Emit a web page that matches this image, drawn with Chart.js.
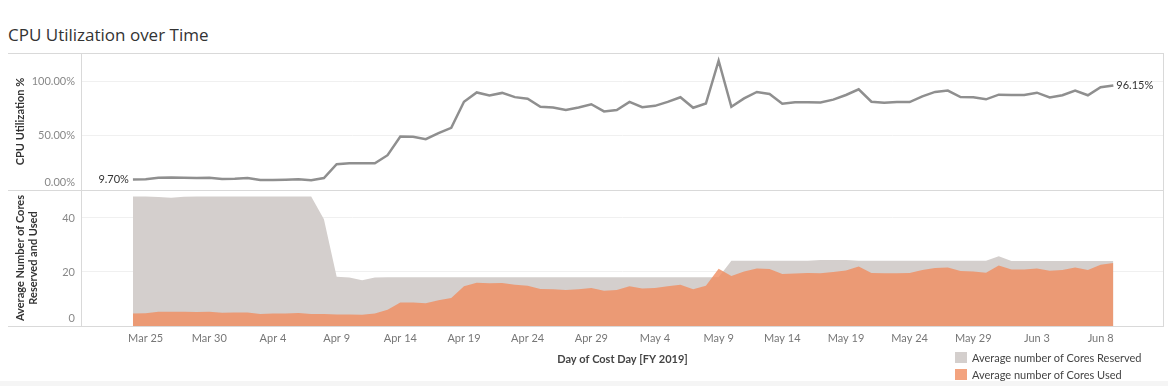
<!DOCTYPE html>
<html>
<head>
<meta charset="utf-8">
<script src="https://cdn.jsdelivr.net/npm/chart.js@4/dist/chart.umd.min.js"></script>
<style>
  html, body { margin: 0; padding: 0; background: #fff; }
  body { width: 1168px; height: 386px; position: relative; overflow: hidden; font-family: Lato, sans-serif; }
  #title { position: absolute; left: 8px; top: 23px; font-family: "Open Sans", sans-serif; font-size: 17px; line-height: 24px; color: #333; white-space: nowrap; }
  canvas { position: absolute; left: 0; }
  #c1 { top: 53px; }
  #c2 { top: 190px; }
  .hl { position: absolute; height: 1px; background: #d9d9d9; }
  .vl { position: absolute; width: 1px; background: #d9d9d9; }
  #band { position: absolute; left: 0; top: 381px; width: 1168px; height: 5px; background: #f5f5f5; }
  .lg { position: absolute; left: 955px; font-family: Lato, sans-serif; font-size: 11px; line-height: 14px; color: #444; white-space: nowrap; }
  .lg .sw { position: absolute; left: 0; top: 1px; width: 12px; height: 11px; }
  .lg .tx { position: absolute; left: 17px; top: 0; }
</style>
</head>
<body>
<div id="title">CPU Utilization over Time</div>
<canvas id="c1" width="1168" height="145"></canvas>
<canvas id="c2" width="1168" height="196"></canvas>
<div class="hl" style="left:8px;top:53px;width:1156px"></div>
<div class="hl" style="left:8px;top:190px;width:1156px"></div>
<div class="hl" style="left:8px;top:326px;width:1156px"></div>
<div class="vl" style="left:81px;top:53px;height:273px"></div>
<div class="vl" style="left:1163px;top:53px;height:274px"></div>
<div id="band"></div>
<div id="legend"></div>
<script>
// ---- Data (day index 0 = Mar 24, 2019) ----
const cpuUtil = [9.70, 10.0, 11.2, 11.5, 11.3, 11.0, 11.3, 10.1, 10.4, 11.0,
  9.2, 9.2, 9.5, 9.8, 8.9, 11.0, 23.7, 24.5, 24.5, 24.6,
  32.0, 49.2, 48.9, 46.7, 52.3, 57.2, 81.1, 89.7, 86.9, 89.3,
  85.4, 83.9, 76.5, 75.9, 73.5, 75.9, 78.9, 72.3, 73.5, 81.0,
  76.2, 77.4, 81.1, 85.3, 75.6, 79.5, 118.9, 76.6, 84.3, 90.2,
  88.3, 79.4, 80.7, 80.7, 80.4, 83.1, 87.4, 92.6, 81.2, 80.3,
  80.9, 80.9, 86.1, 90.2, 91.4, 85.5, 85.2, 83.4, 87.7, 87.4,
  87.4, 89.5, 85.2, 87.1, 91.4, 87.1, 94.5, 96.15];

const coresReserved = [48.0, 48.0, 47.8, 47.5, 47.9, 48.0, 48.0, 48.0, 48.0, 48.0,
  48.0, 48.0, 48.0, 48.0, 48.0, 39.5, 18.2, 18.0, 16.9, 18.0,
  18.1, 18.1, 18.1, 18.1, 18.1, 18.1, 18.1, 18.1, 18.1, 18.1,
  18.1, 18.1, 18.1, 18.1, 18.1, 18.1, 18.1, 18.1, 18.1, 18.1,
  18.1, 18.1, 18.1, 18.1, 18.1, 18.1, 18.1, 24.2, 24.2, 24.2,
  24.2, 24.2, 24.2, 24.2, 24.4, 24.4, 24.4, 24.2, 24.2, 24.2,
  24.2, 24.2, 24.2, 24.2, 24.2, 24.2, 24.2, 24.2, 25.8, 24.1,
  24.1, 24.1, 24.1, 24.1, 24.1, 24.1, 24.1, 24.1];

const coresUsed = [4.6, 4.7, 5.3, 5.3, 5.3, 5.2, 5.3, 4.9, 5.0, 5.0,
  4.4, 4.6, 4.6, 4.8, 4.4, 4.4, 4.3, 4.3, 4.2, 4.6,
  6.0, 8.7, 8.7, 8.4, 9.5, 10.4, 14.7, 16.0, 15.8, 15.9,
  15.3, 14.9, 13.7, 13.6, 13.3, 13.6, 14.1, 13.1, 13.3, 14.7,
  13.9, 14.1, 14.7, 15.3, 13.6, 14.9, 21.2, 18.5, 20.2, 21.3,
  21.1, 19.3, 19.4, 19.6, 19.5, 20.0, 20.6, 22.0, 19.6, 19.5,
  19.5, 19.6, 20.7, 21.5, 21.7, 20.4, 20.2, 19.7, 22.4, 20.9,
  20.9, 21.3, 20.5, 20.7, 21.7, 20.7, 22.7, 23.3];

const tickDays = [1, 6, 11, 16, 21, 26, 31, 36, 41, 46, 51, 56, 61, 66, 71, 76];
const tickLabels = ['Mar 25', 'Mar 30', 'Apr 4', 'Apr 9', 'Apr 14', 'Apr 19', 'Apr 24', 'Apr 29',
  'May 4', 'May 9', 'May 14', 'May 19', 'May 24', 'May 29', 'Jun 3', 'Jun 8'];
const cpuTicks = [0, 50, 100];
const coreTicks = [0, 20, 40];
const seriesNames = ['Average number of Cores Reserved', 'Average number of Cores Used'];

// ---- Styles ----
const GRAY_FILL = '#d4cfcd';
const ORANGE_FILL = 'rgba(240,140,95,0.8)';
const ORANGE_SWATCH = '#f3a37f';
const X_MIN = -4, X_MAX = 80.9;
const AXIS_W = 82;

const pts = arr => arr.map((v, i) => ({ x: i, y: v }));
const pct = v => v.toFixed(2) + '%';

const yTitleFont = { family: 'Lato', size: 11, weight: 'bold', lineHeight: 1.15 };
const yTickFont = { family: 'Lato', size: 11, lineHeight: '16px' };

const endLabels = {
  id: 'endLabels',
  afterDatasetsDraw(chart) {
    const { ctx } = chart;
    const x = chart.scales.x, y = chart.scales.y;
    const n = cpuUtil.length;
    ctx.save();
    ctx.font = '11px Lato';
    ctx.fillStyle = '#333';
    ctx.textBaseline = 'middle';
    ctx.textAlign = 'right';
    ctx.fillText(pct(cpuUtil[0]), x.getPixelForValue(0) - 4, y.getPixelForValue(cpuUtil[0]));
    ctx.textAlign = 'left';
    ctx.fillText(pct(cpuUtil[n - 1]), x.getPixelForValue(n - 1) + 3, y.getPixelForValue(cpuUtil[n - 1]));
    ctx.restore();
  }
};

Chart.defaults.font.family = 'Lato';

new Chart(document.getElementById('c1'), {
  type: 'line',
  data: {
    datasets: [{
      label: 'CPU Utilization %',
      data: pts(cpuUtil),
      borderColor: '#8f8f8f',
      borderWidth: 2.5,
      pointRadius: 0,
      tension: 0,
      fill: false
    }]
  },
  options: {
    responsive: false,
    animation: false,
    devicePixelRatio: 1,
    layout: { padding: { left: 0, right: 5, top: 0, bottom: 8 } },
    plugins: { legend: { display: false }, tooltip: { enabled: false } },
    scales: {
      x: {
        type: 'linear', min: X_MIN, max: X_MAX, display: false,
        afterFit: s => { s.paddingLeft = 0; s.paddingRight = 0; }
      },
      y: {
        min: 0, max: 126,
        afterBuildTicks: s => { s.ticks = cpuTicks.map(v => ({ value: v })); },
        ticks: {
          callback: v => v === 0 ? [pct(v), ''] : pct(v),
          color: '#888', font: yTickFont, padding: 7
        },
        grid: { color: c => c.tick && c.tick.value === 0 ? 'rgba(0,0,0,0)' : '#f0f0f0', drawTicks: false },
        border: { display: false },
        title: { display: true, text: 'CPU Utilization %', color: '#333', font: yTitleFont, padding: { top: 14, bottom: 0 } },
        afterFit: s => { s.width = AXIS_W; s.paddingTop = 0; s.paddingBottom = 0; }
      }
    }
  },
  plugins: [endLabels]
});

const chart2 = new Chart(document.getElementById('c2'), {
  type: 'line',
  data: {
    datasets: [
      {
        label: seriesNames[0],
        data: pts(coresReserved),
        backgroundColor: GRAY_FILL,
        borderWidth: 0,
        pointRadius: 0,
        tension: 0,
        fill: 'origin',
        order: 2
      },
      {
        label: seriesNames[1],
        data: pts(coresUsed),
        backgroundColor: ORANGE_FILL,
        borderWidth: 0,
        pointRadius: 0,
        tension: 0,
        fill: 'origin',
        order: 1
      }
    ]
  },
  options: {
    responsive: false,
    animation: false,
    devicePixelRatio: 1,
    layout: { padding: { left: 0, right: 5, top: 0, bottom: 0 } },
    plugins: { legend: { display: false }, tooltip: { enabled: false } },
    scales: {
      x: {
        type: 'linear', min: X_MIN, max: X_MAX,
        afterBuildTicks: s => { s.ticks = tickDays.map(v => ({ value: v })); },
        ticks: {
          callback: v => { const k = tickDays.indexOf(v); return k >= 0 ? tickLabels[k] : ''; },
          autoSkip: false, maxRotation: 0, color: '#777',
          font: { family: 'Lato', size: 11 }, padding: 6
        },
        grid: { display: false, drawTicks: false },
        border: { display: false },
        title: { display: true, text: 'Day of Cost Day [FY 2019]', color: '#444', font: { family: 'Lato', size: 11, weight: 'bold' }, padding: { top: 0, bottom: 20 } },
        afterFit: s => { s.height = 60; s.paddingLeft = 0; s.paddingRight = 0; }
      },
      y: {
        min: 0, max: 50.37,
        afterBuildTicks: s => { s.ticks = coreTicks.map(v => ({ value: v })); },
        ticks: {
          callback: v => v === 0 ? [String(v), ''] : String(v),
          color: '#888', font: yTickFont, padding: 7
        },
        grid: { color: c => c.tick && c.tick.value === 0 ? 'rgba(0,0,0,0)' : '#f0f0f0', drawTicks: false },
        border: { display: false },
        title: { display: true, text: ['Average Number of Cores', 'Reserved and Used'], color: '#333', font: yTitleFont, padding: { top: 14, bottom: 0 } },
        afterFit: s => { s.width = AXIS_W; s.paddingTop = 0; s.paddingBottom = 0; }
      }
    }
  }
});

// HTML legend built from the dataset definitions
const legend = document.getElementById('legend');
const swatches = [GRAY_FILL, ORANGE_SWATCH];
chart2.data.datasets.forEach((ds, i) => {
  const row = document.createElement('div');
  row.className = 'lg';
  row.style.top = (351 + i * 17) + 'px';
  const sw = document.createElement('span');
  sw.className = 'sw';
  sw.style.background = swatches[i];
  const tx = document.createElement('span');
  tx.className = 'tx';
  tx.textContent = ds.label;
  row.appendChild(sw);
  row.appendChild(tx);
  legend.appendChild(row);
});
</script>
</body>
</html>
